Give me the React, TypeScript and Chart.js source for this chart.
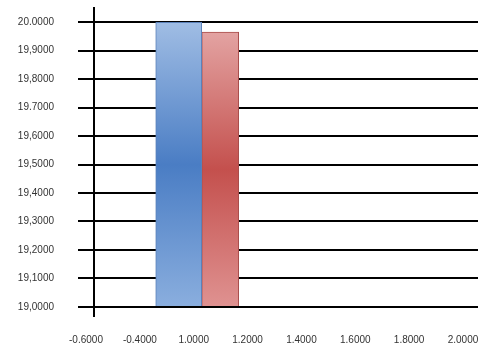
import React, { useEffect, useRef } from 'react';
import { Chart, registerables } from 'chart.js';

Chart.register(...registerables);

const xLabels = ['-0.6000', '-0.4000', '1.0000', '1.2000', '1.4000', '1.6000', '1.8000', '2.0000'];
const yTickValues = [19.0, 19.1, 19.2, 19.3, 19.4, 19.5, 19.6, 19.7, 19.8, 19.9, 20.0];
const yTickLabels = ['19,0000', '19,1000', '19,2000', '19,3000', '19,4000', '19,5000', '19,6000', '19.7000', '19,8000', '19,9000', '20.0000'];
const barCategory = '1.0000';
const seriesNames = ['Series 1', 'Series 2'];
const seriesA = [20.0];
const seriesB = [19.965];
const baseValue = 19.0;

export default function App() {
  const ref = useRef<HTMLCanvasElement>(null);

  useEffect(() => {
    if (!ref.current) return;
    const idx = xLabels.indexOf(barCategory);
    const font = { family: '"Liberation Sans", Arial, sans-serif', size: 10 };
    const grad = (light: string, dark: string, bottom: string) => (ctx: any) => {
      const chart = ctx.chart;
      const y = chart.scales && chart.scales.y;
      if (!y || ctx.type !== 'data') return dark;
      const v = ctx.parsed ? ctx.parsed.y : baseValue + 1;
      const top = y.getPixelForValue(v);
      const bot = y.getPixelForValue(baseValue);
      if (!isFinite(top) || !isFinite(bot) || top === bot) return dark;
      const g = chart.ctx.createLinearGradient(0, top, 0, bot);
      g.addColorStop(0, light);
      g.addColorStop(0.5, dark);
      g.addColorStop(1, bottom);
      return g;
    };
    const chart = new Chart(ref.current, {
      type: 'bar',
      data: {
        datasets: [
          {
            label: seriesNames[0],
            data: seriesA.map((v) => ({ x: idx, y: v })),
            base: baseValue,
            barThickness: 46,
            backgroundColor: grad('#a0bde4', '#4a7dc4', '#8aaede'),
            borderColor: '#5a80b8',
            borderWidth: 1,
          },
          {
            label: seriesNames[1],
            data: seriesB.map((v) => ({ x: idx, y: v })),
            base: baseValue,
            barThickness: 37,
            backgroundColor: grad('#e3a3a2', '#c4504d', '#df9291'),
            borderColor: '#a84c4a',
            borderWidth: 1,
          },
        ],
      } as any,
      options: {
        animation: false,
        responsive: false,
        maintainAspectRatio: false,
        plugins: { legend: { display: false }, tooltip: { enabled: false } },
        layout: { padding: { top: 8, left: 0, right: 0, bottom: 0 } },
        scales: {
          x: {
            type: 'linear',
            offset: false,
            min: 0,
            max: 7.13,
            grid: { display: false, drawTicks: false, offset: false },
            border: { display: false },
            ticks: {
              stepSize: 1,
              includeBounds: false,
              autoSkip: false,
              maxRotation: 0,
              minRotation: 0,
              labelOffset: -8,
              padding: 18,
              color: '#333',
              font,
              callback: (v: any) => (xLabels[Math.round(Number(v))] ?? ''),
            },
            afterFit: (s: any) => {
              s.height = 36;
              s.paddingLeft = 0;
              s.paddingRight = 0;
            },
          },
          y: {
            type: 'linear',
            min: 18.968,
            max: 20.05,
            afterBuildTicks: (s: any) => {
              s.ticks = yTickValues.map((v) => ({ value: v }));
            },
            grid: { color: '#000', lineWidth: 2, tickLength: 16, drawTicks: true },
            border: { display: true, color: '#000', width: 2 },
            ticks: {
              padding: 24,
              color: '#333',
              font,
              callback: (v: any) => {
                const i = yTickValues.findIndex((t) => Math.abs(t - Number(v)) < 1e-6);
                return i >= 0 ? yTickLabels[i] : '';
              },
            },
            afterFit: (s: any) => {
              s.width = 94;
              s.paddingTop = 0;
              s.paddingBottom = 0;
            },
          },
        },
      } as any,
    });
    return () => chart.destroy();
  }, []);

  return (
    <div style={{ position: 'fixed', left: 0, top: 0, width: 478, height: 352, background: '#fff' }}>
      <canvas ref={ref} width={478} height={352} style={{ display: 'block' }} />
    </div>
  );
}
